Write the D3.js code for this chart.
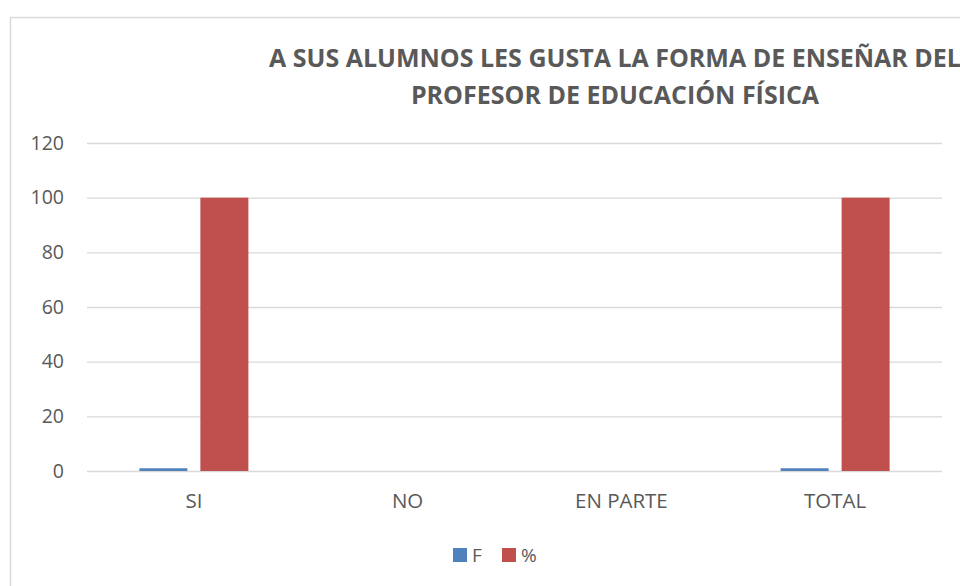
<!DOCTYPE html>
<html>
<head>
<script src="https://d3js.org/d3.v7.min.js"></script>
<style>
  body {margin: 0; background: #fff;}
  svg text {font-family: "Open Sans", sans-serif;}
  .axis .domain {display: none;}
</style>
</head>
<body>
<svg id="chart" width="960" height="586"></svg>
<script>
// data
var categories = ["SI", "NO", "EN PARTE", "TOTAL"];
var keys = ["F", "%"];
var valuesF = [1, 0, 0, 1];
var valuesPct = [100, 0, 0, 100];
var yTicks = [0, 20, 40, 60, 80, 100, 120];
var colors = {"F": "#4f81bd", "%": "#c0504d"};

var data = categories.map(function(c, i) {
  return {cat: c, "F": valuesF[i], "%": valuesPct[i]};
});

var svg = d3.select("#chart"),
    margin = {top: 143, right: 18, bottom: 115, left: 87},
    width = 960 - margin.left - margin.right,
    height = 586 - margin.top - margin.bottom;

// chart border (runs off the right / bottom like the original)
svg.append("rect")
  .attr("x", 10.5).attr("y", 17.5)
  .attr("width", 1000).attr("height", 600)
  .attr("fill", "none").attr("stroke", "#d9d9d9").attr("stroke-width", 1.5);

var g = svg.append("g").attr("transform", "translate(" + margin.left + "," + margin.top + ")");

var x0 = d3.scaleBand().domain(categories).range([0, width]);
var groupW = 109;
var x1 = d3.scaleBand().domain(keys)
  .range([(x0.bandwidth() - groupW) / 2, (x0.bandwidth() + groupW) / 2])
  .paddingInner(0.213);
var y = d3.scaleLinear().domain([0, 120]).range([height, 0]);

// gridlines
g.append("g").selectAll("line")
  .data(yTicks)
  .enter().append("line")
  .attr("x1", 0).attr("x2", width)
  .attr("y1", function(d) { return y(d) + 0.5; })
  .attr("y2", function(d) { return y(d) + 0.5; })
  .attr("stroke", "#d9d9d9").attr("stroke-width", 1.3);

// bars
g.append("g").selectAll("g")
  .data(data)
  .enter().append("g")
  .attr("transform", function(d) { return "translate(" + x0(d.cat) + ",0)"; })
  .selectAll("rect")
  .data(function(d) { return keys.map(function(k) { return {key: k, value: d[k]}; }); })
  .enter().append("rect")
  .attr("x", function(d) { return x1(d.key); })
  .attr("y", function(d) { return y(d.value); })
  .attr("width", x1.bandwidth())
  .attr("height", function(d) { return height - y(d.value); })
  .attr("fill", function(d) { return colors[d.key]; });

// axes
g.append("g")
  .attr("class", "axis")
  .call(d3.axisLeft(y).tickValues(yTicks).tickSize(0).tickPadding(23));

g.append("g")
  .attr("class", "axis x")
  .attr("transform", "translate(0," + height + ")")
  .call(d3.axisBottom(x0).tickSize(0).tickPadding(22));

g.selectAll(".axis").attr("font-family", null).attr("font-size", null);
g.selectAll(".axis .tick text")
  .attr("fill", "#595959")
  .style("font-size", "19.5px");
g.selectAll(".axis.x .tick text").style("font-size", "20.5px");

// title
var title = svg.append("text")
  .attr("text-anchor", "middle")
  .attr("fill", "#595959")
  .style("font-size", "25px")
  .attr("font-weight", "bold");
title.append("tspan").attr("x", 615).attr("y", 67).text("A SUS ALUMNOS LES GUSTA LA FORMA DE ENSEÑAR DEL");
title.append("tspan").attr("x", 615).attr("y", 104).text("PROFESOR DE EDUCACIÓN FÍSICA");

// legend
var legendX = [453, 502];
var legend = svg.append("g").selectAll("g")
  .data(keys)
  .enter().append("g")
  .attr("transform", function(d, i) { return "translate(" + legendX[i] + ",548)"; });
legend.append("rect")
  .attr("width", 14).attr("height", 14)
  .attr("fill", function(d) { return colors[d]; });
legend.append("text")
  .attr("x", 19).attr("y", 14)
  .attr("fill", "#595959").style("font-size", "19px")
  .text(function(d) { return d; });
</script>
</body>
</html>
